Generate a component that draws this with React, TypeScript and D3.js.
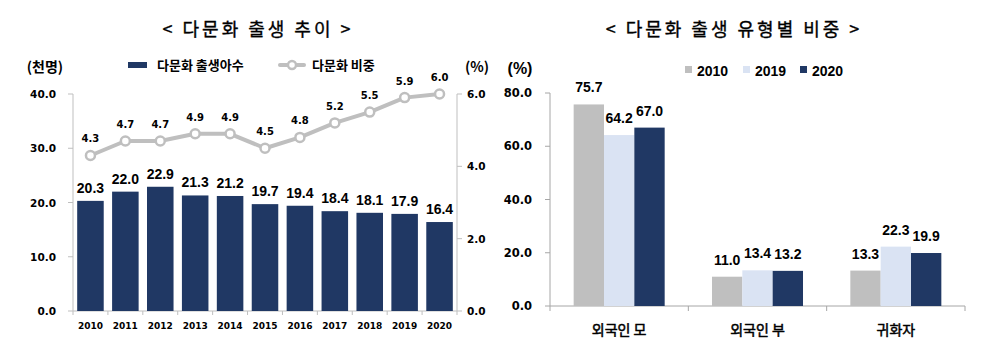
import React from 'react';
import * as d3 from 'd3';

const years = ['2010', '2011', '2012', '2013', '2014', '2015', '2016', '2017', '2018', '2019', '2020'];
const births = [20.3, 22.0, 22.9, 21.3, 21.2, 19.7, 19.4, 18.4, 18.1, 17.9, 16.4];
const shares = [4.3, 4.7, 4.7, 4.9, 4.9, 4.5, 4.8, 5.2, 5.5, 5.9, 6.0];
const leftTicks = [0, 10, 20, 30, 40];
const rightTicks = [0, 2, 4, 6];

const types = ['외국인 모', '외국인 부', '귀화자'];
const seriesYears = ['2010', '2019', '2020'];
const s2010 = [75.7, 11.0, 13.3];
const s2019 = [64.2, 13.4, 22.3];
const s2020 = [67.0, 13.2, 19.9];
const typeTicks = [0, 20, 40, 60, 80];

const NAVY = '#203864';
const GRAY = '#bfbfbf';
const LIGHT = '#dae3f3';
const AXIS = '#bfbfbf';
const KR = '"Noto Sans CJK KR", sans-serif';
const TICK = '"DejaVu Sans", sans-serif';
const NUM = '"Liberation Sans", Arial, sans-serif';

export default function App() {
  // Left chart
  const xL = d3.scaleBand<string>().domain(years).range([73, 457]).paddingInner(0.24).paddingOuter(0.12);
  const yL = d3.scaleLinear().domain([0, 40]).range([311, 94]);
  const yR = d3.scaleLinear().domain([0, 6]).range([311, 94]);
  const line = d3
    .line<number>()
    .x((_, i) => (xL(years[i]) as number) + xL.bandwidth() / 2)
    .y((d) => yR(d));
  const boundaries = d3.range(years.length + 1).map((i) => 73 + i * (384 / years.length));

  // Right chart
  const x2 = d3.scaleBand<string>().domain(types).range([550, 965]).padding(0);
  const xi = d3.scaleBand<string>().domain(seriesYears).range([0, x2.bandwidth()]).paddingInner(0).paddingOuter(0.78);
  const y2 = d3.scaleLinear().domain([0, 80]).range([306, 93]);
  const series = [
    { key: seriesYears[0], values: s2010, color: GRAY },
    { key: seriesYears[1], values: s2019, color: LIGHT },
    { key: seriesYears[2], values: s2020, color: NAVY },
  ];

  return (
    <svg width={994} height={349} style={{ position: 'absolute', left: 0, top: 0, background: '#fff' }}>
      {/* Titles */}
      <text x={258} y={36} textAnchor="middle" fontFamily={KR} fontSize={18} letterSpacing={3} fill="#000" stroke="#000" strokeWidth={0.35}>
        {'< 다문화  출생  추이 >'}
      </text>
      <text x={734} y={36} textAnchor="middle" fontFamily={KR} fontSize={18} letterSpacing={3} fill="#000" stroke="#000" strokeWidth={0.35}>
        {'< 다문화  출생  유형별  비중 >'}
      </text>

      {/* ===== Left chart ===== */}
      <text x={45} y={72} textAnchor="middle" fontFamily={KR} fontWeight="bold" fontSize={14}>(천명)</text>
      <text x={477} y={72} textAnchor="middle" fontFamily={KR} fontWeight="bold" fontSize={14}>(%)</text>
      {/* legend */}
      <rect x={128} y={62} width={19} height={6} fill={NAVY} />
      <text x={157} y={70} fontFamily={KR} fontWeight="bold" fontSize={13}>다문화 출생아수</text>
      <line x1={280} y1={65} x2={304} y2={65} stroke={GRAY} strokeWidth={4} strokeLinecap="round" />
      <circle cx={292} cy={65} r={4} fill="#fff" stroke={GRAY} strokeWidth={2.5} />
      <text x={312} y={70} fontFamily={KR} fontWeight="bold" fontSize={13}>다문화 비중</text>

      {/* axes */}
      <line x1={73} y1={94} x2={73} y2={311} stroke={AXIS} />
      <line x1={457} y1={94} x2={457} y2={311} stroke={AXIS} />
      <line x1={73} y1={311} x2={457} y2={311} stroke={AXIS} />
      {leftTicks.map((t) => (
        <g key={'lt' + t}>
          <line x1={68} x2={73} y1={yL(t)} y2={yL(t)} stroke={AXIS} />
          <text x={56} y={yL(t) + 4} textAnchor="end" fontFamily={TICK} fontWeight="bold" fontSize={10.5}>
            {t.toFixed(1)}
          </text>
        </g>
      ))}
      {rightTicks.map((t) => (
        <g key={'rt' + t}>
          <line x1={457} x2={462} y1={yR(t)} y2={yR(t)} stroke={AXIS} />
          <text x={467} y={yR(t) + 4} textAnchor="start" fontFamily={TICK} fontWeight="bold" fontSize={10.5}>
            {t.toFixed(1)}
          </text>
        </g>
      ))}
      {boundaries.map((b, i) => (
        <line key={'bd' + i} x1={b} x2={b} y1={311} y2={315} stroke={AXIS} />
      ))}
      {/* bars */}
      {births.map((v, i) => (
        <g key={'b' + i}>
          <rect x={xL(years[i])} y={yL(v)} width={xL.bandwidth()} height={yL(0) - yL(v)} fill={NAVY} />
          <text
            x={(xL(years[i]) as number) + xL.bandwidth() / 2}
            y={yL(v) - 8}
            textAnchor="middle"
            fontFamily={NUM}
            fontWeight="bold"
            fontSize={14}
          >
            {v.toFixed(1)}
          </text>
        </g>
      ))}
      {years.map((yr) => (
        <text
          key={'yr' + yr}
          x={(xL(yr) as number) + xL.bandwidth() / 2}
          y={329}
          textAnchor="middle"
          fontFamily={TICK}
          fontWeight="bold"
          fontSize={9}
        >
          {yr}
        </text>
      ))}
      {/* line */}
      <path d={line(shares) || ''} fill="none" stroke={GRAY} strokeWidth={4} strokeLinejoin="round" />
      {shares.map((v, i) => (
        <g key={'p' + i}>
          <circle
            cx={(xL(years[i]) as number) + xL.bandwidth() / 2}
            cy={yR(v)}
            r={4.5}
            fill="#fff"
            stroke={GRAY}
            strokeWidth={2.5}
          />
          <text
            x={(xL(years[i]) as number) + xL.bandwidth() / 2}
            y={yR(v) - 13}
            textAnchor="middle"
            fontFamily={TICK}
            fontWeight="bold"
            fontSize={10}
          >
            {v.toFixed(1)}
          </text>
        </g>
      ))}

      {/* ===== Right chart ===== */}
      <text x={520} y={74} textAnchor="middle" fontFamily={NUM} fontWeight="bold" fontSize={16}>(%)</text>
      {series.map((s, i) => {
        const lx = [685, 743, 800][i];
        return (
          <g key={'lg' + s.key}>
            <rect x={lx} y={66} width={7} height={7} fill={s.color} />
            <text x={lx + 12} y={76} fontFamily={NUM} fontWeight="bold" fontSize={14}>{s.key}</text>
          </g>
        );
      })}
      <line x1={550} y1={93} x2={550} y2={306} stroke="#a6a6a6" />
      <line x1={550} y1={306} x2={965} y2={306} stroke="#a6a6a6" />
      {typeTicks.map((t) => (
        <g key={'tt' + t}>
          <line x1={545} x2={550} y1={y2(t)} y2={y2(t)} stroke="#a6a6a6" />
          <text x={532} y={y2(t) + 4} textAnchor="end" fontFamily={TICK} fontWeight="bold" fontSize={11.5}>
            {t.toFixed(1)}
          </text>
        </g>
      ))}
      {d3.range(types.length + 1).map((i) => {
        const bx = 550 + i * x2.step();
        return <line key={'tb' + i} x1={bx} x2={bx} y1={306} y2={311} stroke="#a6a6a6" />;
      })}
      {types.map((t, ti) => (
        <g key={'ty' + t}>
          {series.map((s) => {
            const bx = (x2(t) as number) + (xi(s.key) as number);
            const v = s.values[ti];
            return (
              <g key={s.key}>
                <rect x={bx} y={y2(v)} width={xi.bandwidth()} height={y2(0) - y2(v)} fill={s.color} />
                <text
                  x={bx + xi.bandwidth() / 2}
                  y={y2(v) - 12}
                  textAnchor="middle"
                  fontFamily={NUM}
                  fontWeight="bold"
                  fontSize={14}
                >
                  {v.toFixed(1)}
                </text>
              </g>
            );
          })}
          <text
            x={(x2(t) as number) + x2.bandwidth() / 2}
            y={335}
            textAnchor="middle"
            fontFamily={KR}
            fontSize={14}
            stroke="#000"
            strokeWidth={0.5}
          >
            {t}
          </text>
        </g>
      ))}
    </svg>
  );
}
